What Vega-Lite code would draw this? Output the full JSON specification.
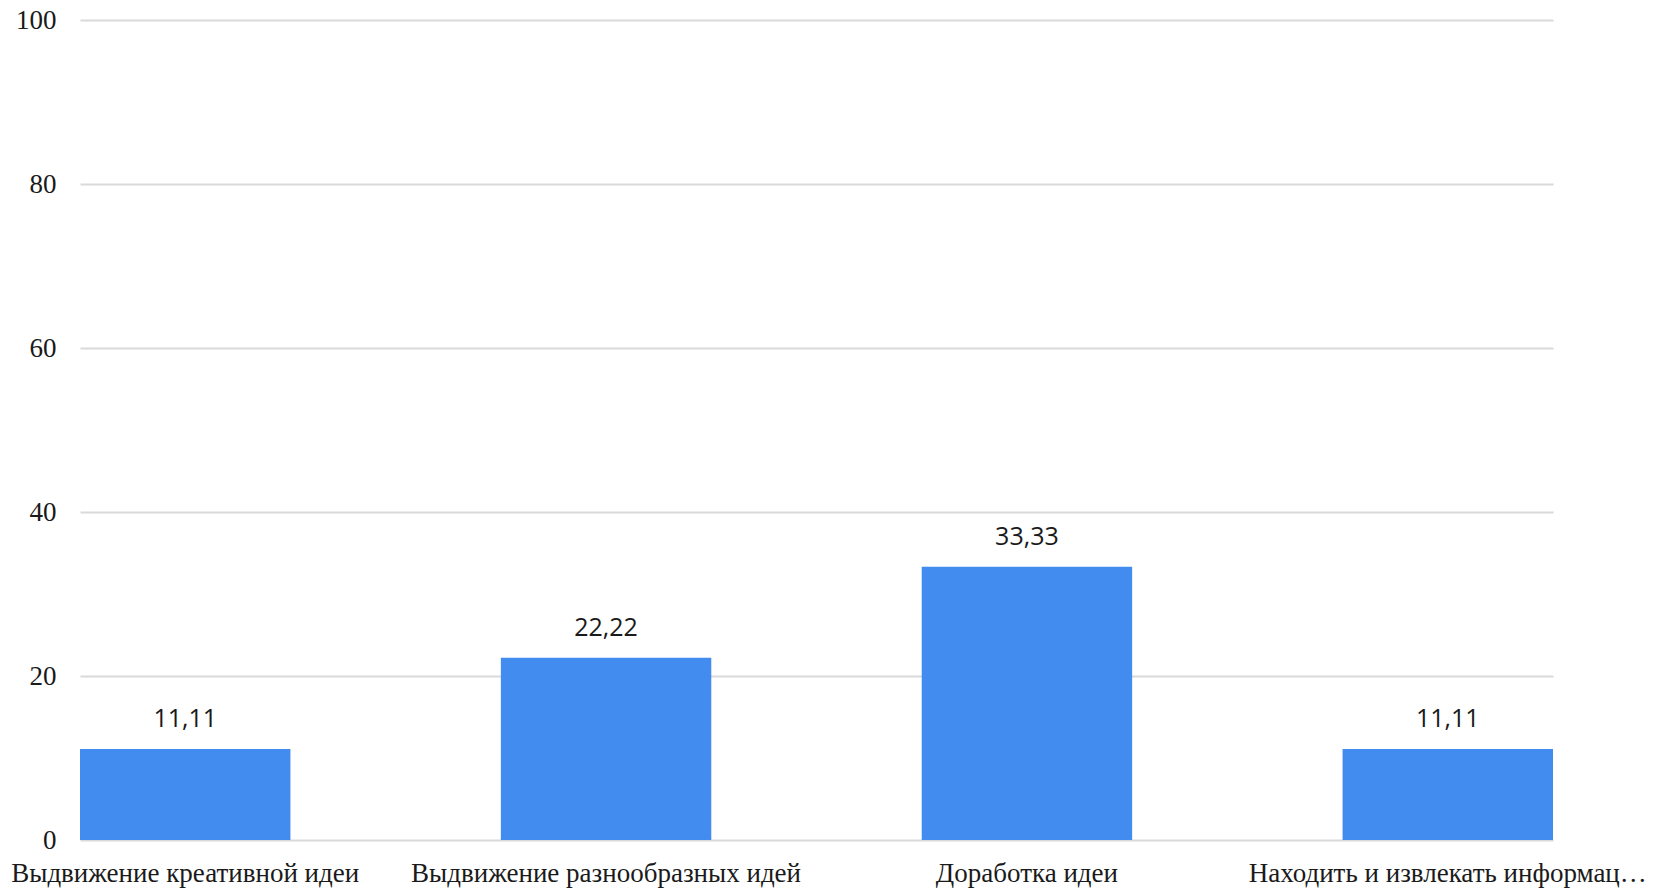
{
  "$schema": "https://vega.github.io/schema/vega-lite/v6.json",
  "autosize": "none",
  "width": 1473,
  "height": 820,
  "padding": {"left": 80, "top": 20, "right": 106, "bottom": 52},
  "background": "white",
  "data": {"values": [
    {"cat": "Выдвижение креативной идеи", "val": 11.11, "lbl": "11,11"},
    {"cat": "Выдвижение разнообразных идей", "val": 22.22, "lbl": "22,22"},
    {"cat": "Доработка идеи", "val": 33.33, "lbl": "33,33"},
    {"cat": "Находить и извлекать информацию", "val": 11.11, "lbl": "11,11"}
  ]},
  "config": {"view": {"stroke": null}},
  "encoding": {
    "x": {"field": "cat", "type": "nominal", "sort": null,
      "scale": {"paddingInner": 0.5, "paddingOuter": 0},
      "axis": {"title": null, "labelAngle": 0, "domain": false, "ticks": false,
        "labelFont": "Liberation Serif", "labelFontSize": 27, "labelColor": "#1a1a1a",
        "labelPadding": 20, "labelLimit": 403}},
    "y": {"field": "val", "type": "quantitative",
      "scale": {"domain": [0, 100]},
      "axis": {"title": null, "values": [0, 20, 40, 60, 80, 100], "domain": false, "ticks": false,
        "labelFont": "Liberation Serif", "labelFontSize": 27, "labelColor": "#1a1a1a",
        "labelPadding": 24, "gridColor": "#d9d9d9", "gridWidth": 2}}
  },
  "layer": [
    {"mark": {"type": "bar", "color": "#428cf0"}},
    {"mark": {"type": "text", "baseline": "bottom", "dy": -17, "font": "Open Sans", "fontSize": 25, "color": "#1a1a1a"},
      "encoding": {"text": {"field": "lbl"}}}
  ]
}
